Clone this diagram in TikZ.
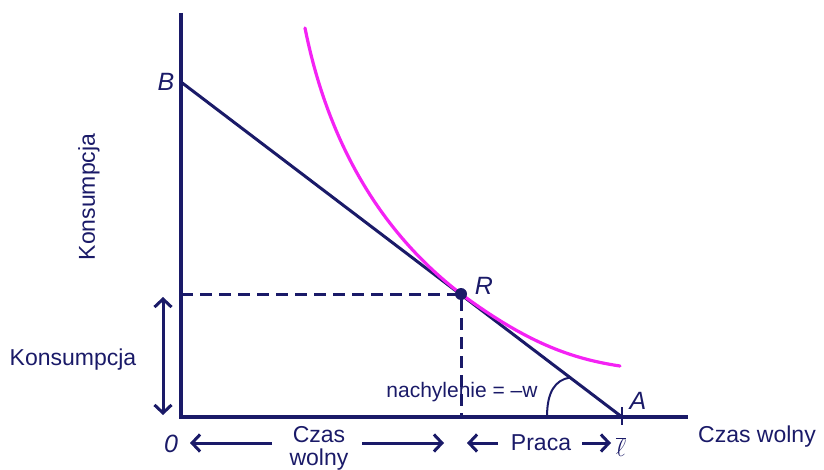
\documentclass[tikz,border=0pt]{standalone}
\usepackage{fontspec}
\setmainfont{Liberation Sans}
\usetikzlibrary{arrows.meta}

\definecolor{navy}{RGB}{26,26,104}
\definecolor{indiff}{RGB}{244,34,244}

\begin{document}
\begin{tikzpicture}[x=1pt, y=-1pt, line cap=round, line join=round,
    every node/.style={text=navy, font=\fontsize{23}{23}\selectfont},
    ptlabel/.style={font=\fontsize{25}{25}\selectfont\itshape, inner sep=1pt},
    barb/.style={-{Straight Barb[length=8pt,width=17pt]}, draw=navy, line width=3pt, line cap=butt}]
    
    % frame in pixel units (y runs down)
    \useasboundingbox (0,0) rectangle (824,470);
    
    % key points
    \coordinate (O)   at (181,417);
    \coordinate (Top) at (181,13);
    \coordinate (End) at (688,417);
    \coordinate (B)   at (181,82);
    \coordinate (A)   at (622,417);
    \coordinate (R)   at (461,294);
    \coordinate (Ry)  at (181,294);
    \coordinate (Rx)  at (461,417);
    
    % axes
    \draw[navy, line width=4pt, line join=miter, line cap=butt] (Top) -- (O) -- (End);
    
    % budget line B--A and tick at A
    \draw[navy, line width=3pt] (B) -- (A);
    \draw[navy, line width=2.5pt, line cap=butt] (A) ++(0,-10) -- ++(0,18);
    
    % indifference curve (tangent at R)
    \draw[indiff, line width=3.2pt] (305,28) .. controls (325,128) and (371,225) .. (R)
        .. controls (526,342) and (570,358.5) .. (620,366);
    
    % dashed guides to the axes
    \draw[navy, line width=3pt, line cap=butt, dash pattern=on 12pt off 7pt] (Ry) -- (R) -- (Rx);
    \fill[navy] (R) circle (6);
    
    % slope angle
    \draw[navy, line width=2pt] (547,417) .. controls (547,392) and (555,380) .. (570,377.5);
    \node[font=\fontsize{21}{21}\selectfont] (slope) at (462,392) {nachylenie = –w};
    
    % point labels
    \node[ptlabel] (labB) at (166,82)  {B};
    \node[ptlabel] (labA) at (638,401) {A};
    \node[ptlabel] (labR) at (484,286) {R};
    \node[ptlabel] (zero) at (171,444) {0};
    \node[font=\fontsize{24}{24}\selectfont, inner sep=0pt] (lbar) at (621,447) {$\overline{\ell}$};
    
    % axis titles
    \node[rotate=90] (ylab) at (89,197) {Konsumpcja};
    \node (xlab) at (757,437) {Czas wolny};
    
    % consumption span
    \node (cons) at (73,360) {Konsumpcja};
    \coordinate (cTop) at (163,297);
    \coordinate (cBot) at (163,415);
    \draw[barb, {Straight Barb[length=8pt,width=17pt]}-{Straight Barb[length=8pt,width=17pt]}] (cTop) -- (cBot);
    
    % leisure and work spans
    \node[align=center] (czas) at (319,448) {Czas\\wolny};
    \node (praca) at (541,443) {Praca};
    \coordinate (czL) at (272,443);
    \coordinate (czR) at (362,443);
    \coordinate (zeroR) at (190,443);
    \coordinate (rxR) at (444,443);
    \coordinate (prL) at (498,443);
    \coordinate (prR) at (582,443);
    \coordinate (rxL) at (467,443);
    \coordinate (lbarL) at (611,443);
    \draw[barb] (czL) -- (zeroR);
    \draw[barb] (czR) -- (rxR);
    \draw[barb] (prL) -- (rxL);
    \draw[barb] (prR) -- (lbarL);
    
\end{tikzpicture}
\end{document}
